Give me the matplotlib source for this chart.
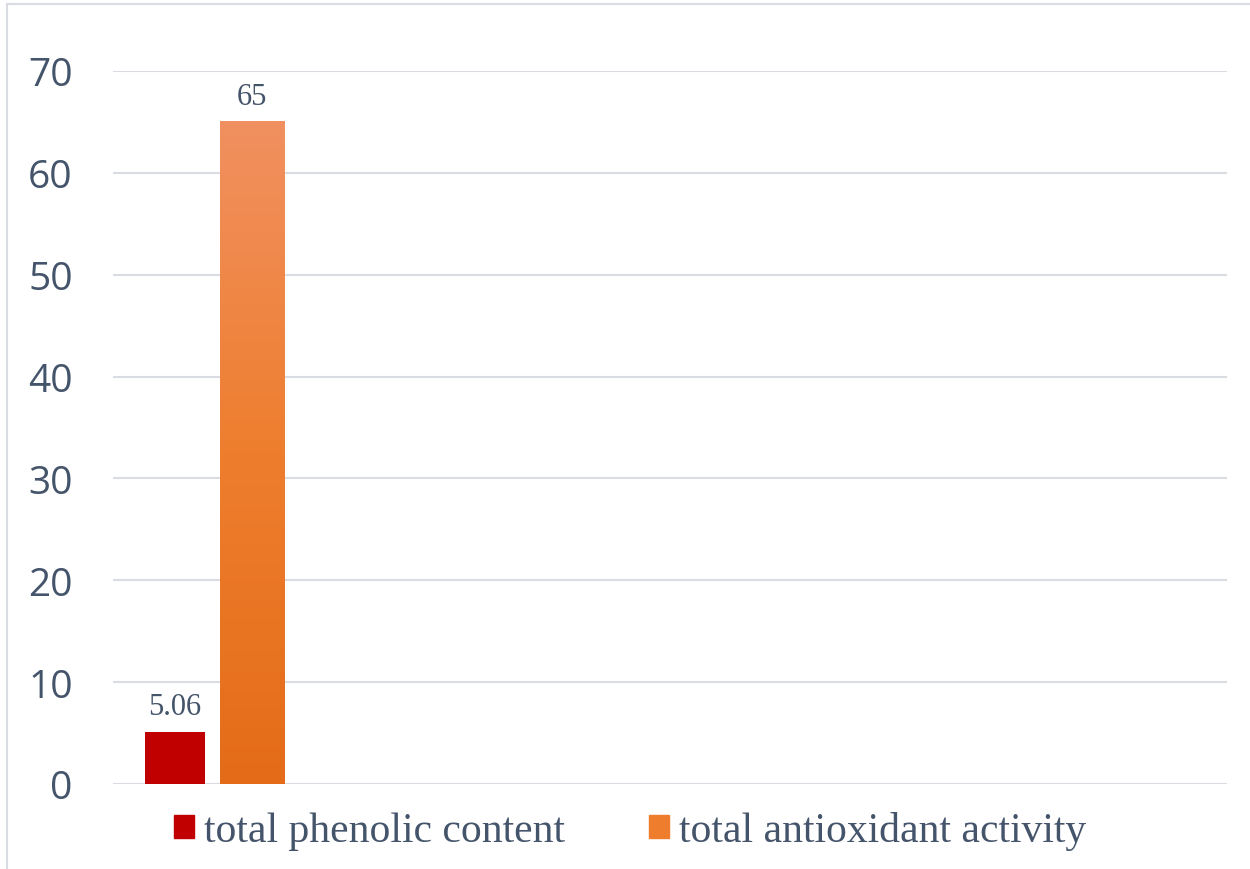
import matplotlib.pyplot as plt
import numpy as np
from matplotlib.patches import Rectangle, Patch
from matplotlib.colors import LinearSegmentedColormap

series = ['total phenolic content', 'total antioxidant activity']
values = [5.06, 65]
value_labels = ['5.06', '65']
yticks = [0, 10, 20, 30, 40, 50, 60, 70]

text_color = '#44546A'
grid_color = '#D9DDE3'
red = '#C00000'
orange_top = '#F19060'
orange_bot = '#E46C18'

fig = plt.figure(figsize=(12.5, 8.7), dpi=100)
ax = fig.add_axes([113 / 1250, 1 - 785 / 870, (1227 - 113) / 1250, (785 - 72) / 870])

# outer chart frame (only top and left edges are inside the picture)
fig.patches.append(Rectangle((7 / 1250, -0.5), 1.5, 1.5 - 5 / 870,
                             transform=fig.transFigure, fill=False,
                             edgecolor='#D9DDE3', linewidth=1.5, zorder=0))

offsets = [-0.395, 0.375]
widths = [0.60, 0.64]

# red bar
ax.bar(offsets[0], values[0], width=widths[0], color=red, zorder=3)

# orange bar with vertical gradient
cmap = LinearSegmentedColormap.from_list('og', [orange_bot, '#EE7E2E', orange_top])
grad = np.linspace(0, 1, 256).reshape(-1, 1)
x0 = offsets[1] - widths[1] / 2
x1 = offsets[1] + widths[1] / 2
ax.imshow(grad, cmap=cmap, origin='lower', aspect='auto',
          extent=[x0, x1, 0, values[1]], zorder=3)

for xo, v, lab in zip(offsets, values, value_labels):
    ax.annotate(lab, (xo, v), xytext=(0, 8), textcoords='offset points',
                ha='center', va='bottom', fontsize=22,
                family='Liberation Serif', color=text_color)

ax.set_xlim(-1.015, 10.125)
ax.set_ylim(0, 70)
ax.set_yticks(yticks)
ax.set_yticklabels([str(t) for t in yticks], fontsize=28, family='Open Sans', color=text_color)
ax.set_xticks([])
ax.tick_params(axis='y', length=0, pad=29)
ax.yaxis.grid(True, color=grid_color, linewidth=1.5, zorder=0)
ax.set_axisbelow(True)
for s in ax.spines.values():
    s.set_visible(False)

handles = [Patch(facecolor=red, edgecolor=red), Patch(facecolor='#EE7E2E', edgecolor='#EE7E2E')]
fig.legend(handles, series, loc='center', bbox_to_anchor=(0.504, 0.044), ncol=2,
           frameon=False, prop={'family': 'Liberation Serif', 'size': 30},
           labelcolor=text_color, handlelength=0.48, handleheight=0.48,
           handletextpad=0.25, columnspacing=2.0)

fig.savefig('out.png', dpi=100)
